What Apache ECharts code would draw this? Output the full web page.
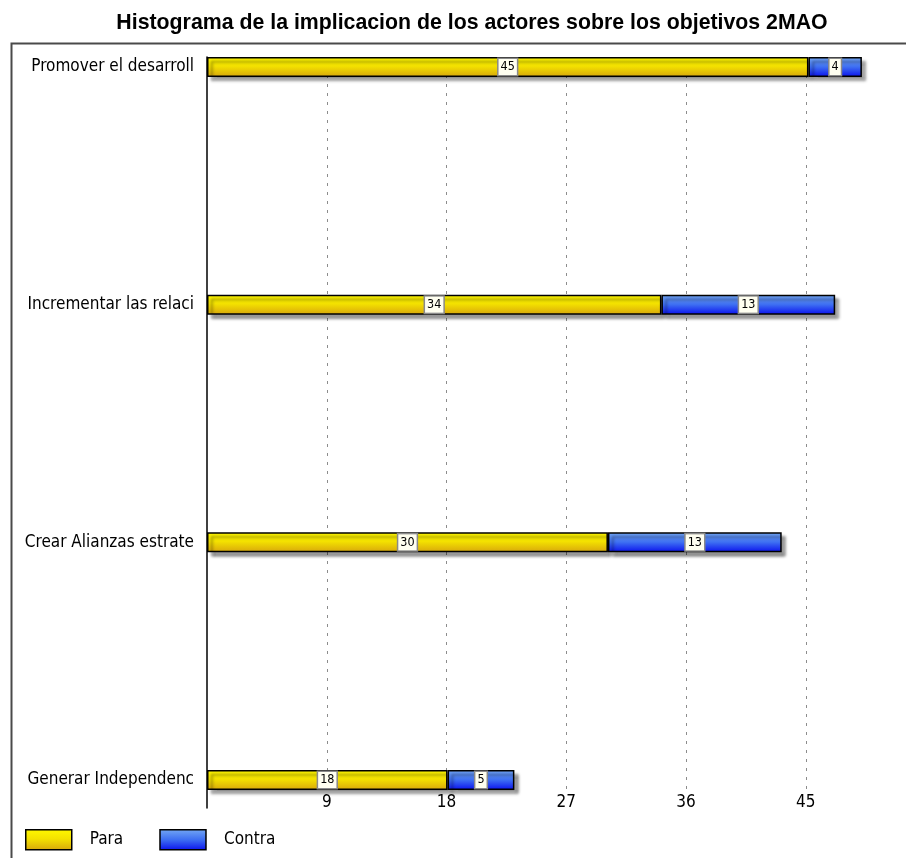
<!DOCTYPE html>
<html>
<head>
<meta charset="utf-8">
<script src="https://cdn.jsdelivr.net/npm/echarts@6/dist/echarts.min.js"></script>
<style>
html,body{margin:0;padding:0;background:#fff;overflow:hidden;}
#chart{width:906px;height:858px;}
</style>
</head>
<body>
<div id="chart"></div>
<script>
const titleText = 'Histograma de la implicacion de los actores sobre los objetivos 2MAO';
const categories = ['Promover el desarroll', 'Incrementar las relaci', 'Crear Alianzas estrate', 'Generar Independenc'];
const para = [45, 34, 30, 18];
const contra = [4, 13, 13, 5];
const seriesNames = ['Para', 'Contra'];
const axisMin = 0, axisMax = 52.3, axisInterval = 9;

const chart = echarts.init(document.getElementById('chart'), null, {renderer: 'canvas', width: 906, height: 858});
const FONT = '"DejaVu Sans Condensed", "Liberation Sans Narrow", "DejaVu Sans"';
const yellow = new echarts.graphic.LinearGradient(0, 0, 0, 1, [
  {offset: 0, color: '#fff800'}, {offset: 0.45, color: '#f4e200'}, {offset: 1, color: '#d7a60c'}]);
const blue = new echarts.graphic.LinearGradient(0, 0, 0, 1, [
  {offset: 0, color: '#74a8f4'}, {offset: 0.5, color: '#3d6ef2'}, {offset: 1, color: '#0a10ee'}]);
const labelStyle = {
  show: true, position: 'inside', color: '#000', fontSize: 12.5, fontFamily: FONT,
  backgroundColor: '#fffff0', borderColor: '#8a8a8a', borderWidth: 1.5, padding: [2, 2, 1, 2]
};
const shadow = {shadowColor: 'rgba(0,0,0,0.42)', shadowBlur: 3, shadowOffsetX: 4, shadowOffsetY: 4};

chart.setOption({
  animation: false,
  title: {
    text: titleText, left: 467, top: 8, textAlign: 'center',
    textStyle: {fontFamily: 'Liberation Sans', fontWeight: 'bold', fontSize: 21.3, color: '#000'}
  },
  graphic: [{
    type: 'rect', left: 9, top: 41, shape: {width: 1000, height: 1000},
    style: {fill: 'none', stroke: '#4a4a4a', lineWidth: 2}, silent: true
  }],
  legend: {
    left: 25, top: 829, padding: 0, itemWidth: 46, itemHeight: 20, itemGap: 36,
    icon: 'rect',
    itemStyle: {borderColor: '#000', borderWidth: 1.5},
    textStyle: {fontFamily: FONT, fontSize: 17, color: '#000', padding: [0, 0, 0, 13]},
    data: seriesNames
  },
  grid: [
    {left: 207, right: 0, top: 57, bottom: 50},
    {left: 207, right: 0, top: 57, bottom: 66},
    {left: 207, right: 0, top: 67, bottom: 78}
  ],
  xAxis: [
    {gridIndex: 0, type: 'value', min: axisMin, max: axisMax, show: false},
    {gridIndex: 1, type: 'value', min: axisMin, max: axisMax, interval: axisInterval,
      axisLine: {show: false}, axisTick: {show: false},
      axisLabel: {margin: 2, fontFamily: FONT, fontSize: 17, color: '#000',
        formatter: v => (v > 0 && v % axisInterval === 0) ? String(v) : ''},
      splitLine: {show: true, showMaxLine: false, showMinLine: false,
        lineStyle: {color: '#8c8c8c', type: [3, 6], width: 1}}
    },
    {gridIndex: 2, type: 'value', min: axisMin, max: axisMax, show: false}
  ],
  yAxis: [
    {gridIndex: 0, type: 'value', axisLine: {show: true, onZero: false, lineStyle: {color: '#000', width: 1.5}},
      axisTick: {show: false}, axisLabel: {show: false}, splitLine: {show: false}},
    {gridIndex: 1, type: 'value', show: false},
    {gridIndex: 2, type: 'category', data: categories, inverse: true, boundaryGap: false,
      axisLine: {show: false}, axisTick: {show: false},
      axisLabel: {margin: 13, fontFamily: FONT, fontSize: 17, color: '#000'}}
  ],
  series: [
    {name: seriesNames[0], type: 'bar', stack: 's', xAxisIndex: 2, yAxisIndex: 2, data: para,
      barWidth: 20, itemStyle: Object.assign({color: yellow, borderColor: '#000', borderWidth: 1.5}, shadow),
      label: labelStyle},
    {name: seriesNames[1], type: 'bar', stack: 's', xAxisIndex: 2, yAxisIndex: 2, data: contra,
      barWidth: 20, itemStyle: Object.assign({color: blue, borderColor: '#000', borderWidth: 1.5}, shadow),
      label: labelStyle}
  ]
});
</script>
</body>
</html>
